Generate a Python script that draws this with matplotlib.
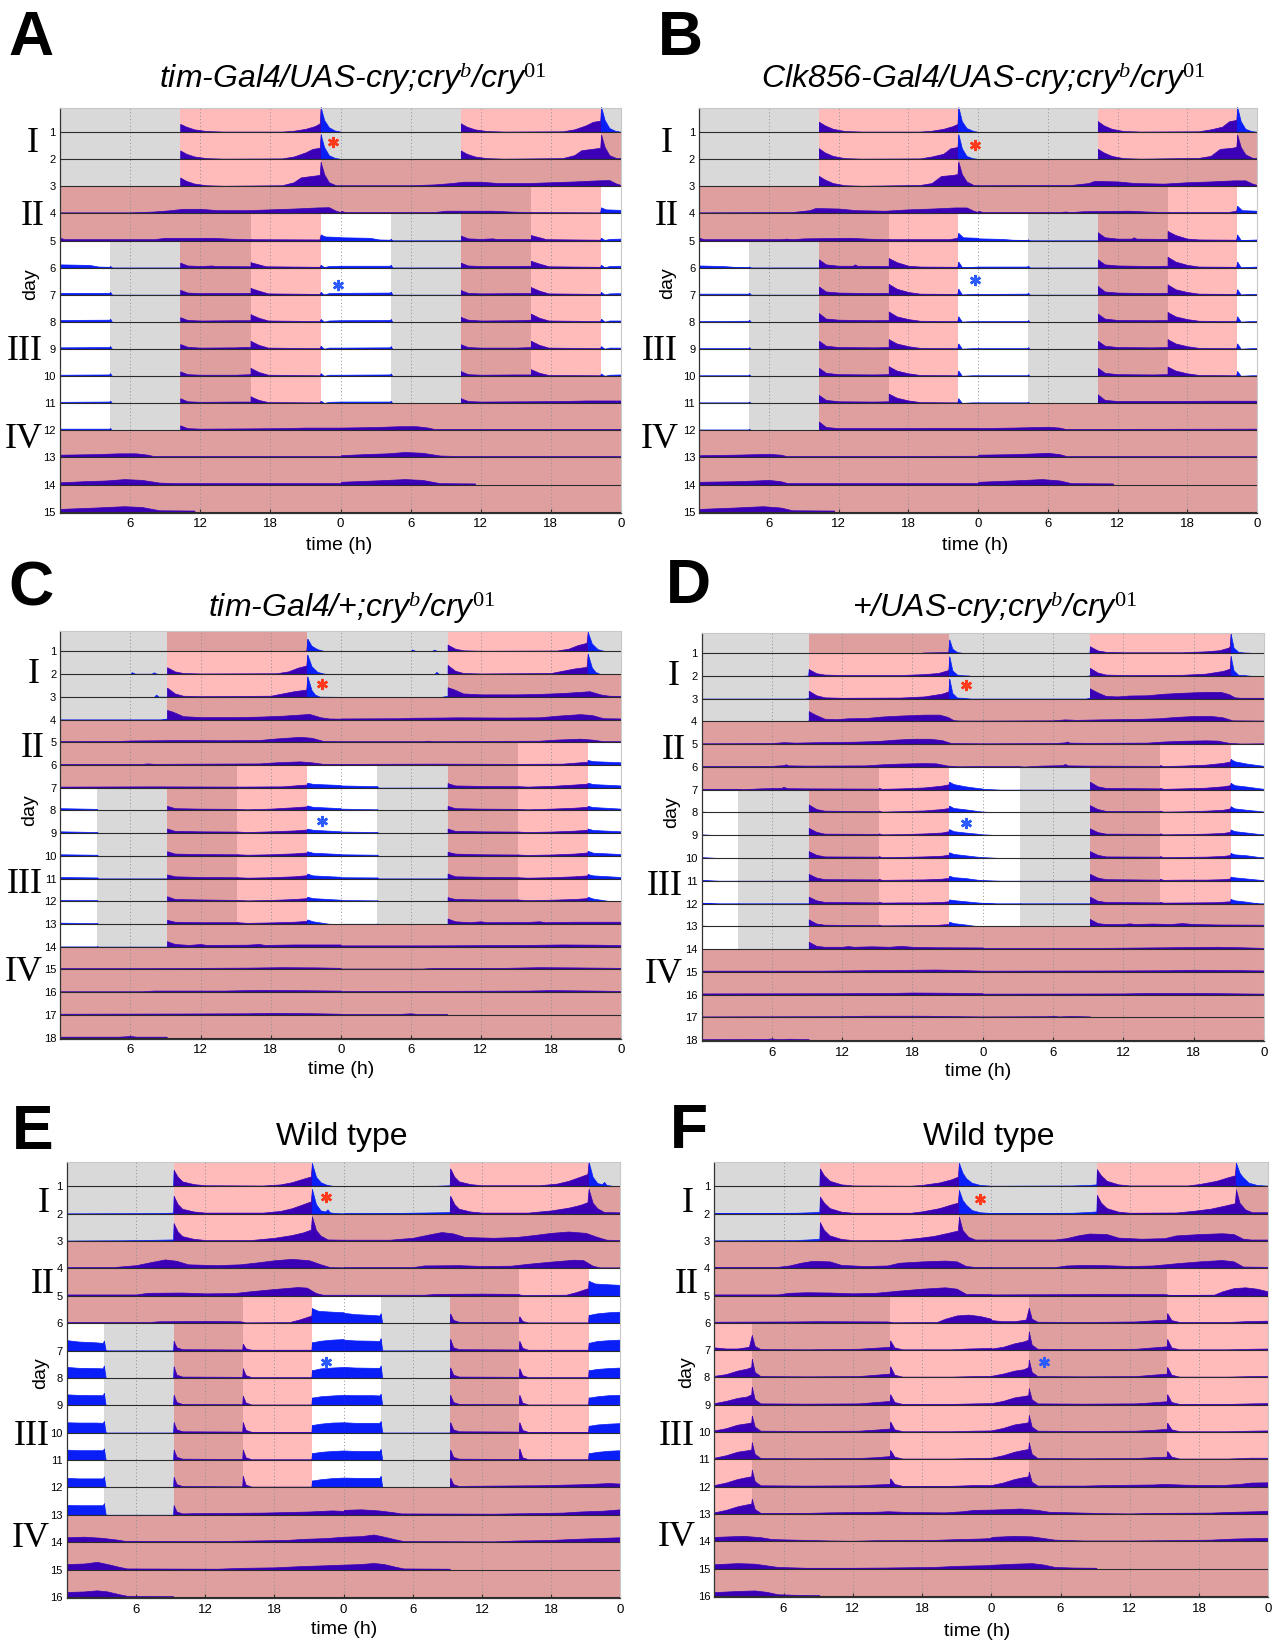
import numpy as np
import matplotlib
matplotlib.use('Agg')
import matplotlib.pyplot as plt
from matplotlib.patches import Rectangle

W, H = 1278, 1646
plt.rcParams['font.family'] = ['Liberation Sans', 'DejaVu Sans']
plt.rcParams['mathtext.fontset'] = 'custom'
plt.rcParams['mathtext.it'] = 'Liberation Serif:italic'
plt.rcParams['mathtext.rm'] = 'Liberation Serif'
plt.rcParams['mathtext.default'] = 'it'

BGCOL = {'g': '#d9d9d9', 'p': '#ffbaba', 'm': '#e09f9f', 'w': '#ffffff'}
PURPLE = '#3b00b6'
BLUE = '#0a1ef8'

# ---------------- background schedules (hours within each day) ----------------
MM = [(0, 24, 'm')]
AB_LD = [(0, 10.3, 'g'), (10.3, 22.3, 'p'), (22.3, 24, 'g')]
AB_LD3 = [(0, 10.3, 'g'), (10.3, 22.3, 'p'), (22.3, 24, 'm')]
AB_TR = [(0, 16.3, 'm'), (16.3, 22.3, 'p'), (22.3, 24, 'w')]
AB_III = [(0, 4.3, 'w'), (4.3, 10.3, 'g'), (10.3, 16.3, 'm'), (16.3, 22.3, 'p'), (22.3, 24, 'w')]
AB_IIIE = [(0, 4.3, 'w'), (4.3, 10.3, 'g'), (10.3, 24, 'm')]
A_BG = [AB_LD, AB_LD, AB_LD3, MM, AB_TR] + [AB_III] * 6 + [AB_IIIE] + [MM] * 4
B_BG = A_BG

CD_LD1 = [(0, 9.15, 'g'), (9.15, 21.15, 'm'), (21.15, 24, 'g')]
CD_LD = [(0, 9.15, 'g'), (9.15, 21.15, 'p'), (21.15, 24, 'g')]
CD_LD4 = [(0, 9.15, 'g'), (9.15, 24, 'm')]
CD_TR = [(0, 15.15, 'm'), (15.15, 21.15, 'p'), (21.15, 24, 'w')]
CD_III = [(0, 3.15, 'w'), (3.15, 9.15, 'g'), (9.15, 15.15, 'm'), (15.15, 21.15, 'p'), (21.15, 24, 'w')]
CD_IIIE = [(0, 3.15, 'w'), (3.15, 9.15, 'g'), (9.15, 24, 'm')]
C_BG = [CD_LD1, CD_LD, CD_LD, CD_LD4, MM, MM, CD_TR] + [CD_III] * 6 + [CD_IIIE] + [MM] * 5
D_BG = C_BG

E_LD = [(0, 9.25, 'g'), (9.25, 21.25, 'p'), (21.25, 24, 'g')]
E_LD3 = [(0, 9.25, 'g'), (9.25, 21.25, 'p'), (21.25, 24, 'm')]
E_TR = [(0, 15.25, 'm'), (15.25, 21.25, 'p'), (21.25, 24, 'w')]
E_III = [(0, 3.25, 'w'), (3.25, 9.25, 'g'), (9.25, 15.25, 'm'), (15.25, 21.25, 'p'), (21.25, 24, 'w')]
E_IIIE = [(0, 3.25, 'w'), (3.25, 9.25, 'g'), (9.25, 24, 'm')]
E_BG = [E_LD, E_LD, E_LD3, MM, MM, E_TR] + [E_III] * 6 + [E_IIIE] + [MM] * 4

F_LD = [(0, 9.15, 'g'), (9.15, 21.2, 'p'), (21.2, 24, 'g')]
F_LD3 = [(0, 9.15, 'g'), (9.15, 21.2, 'p'), (21.2, 24, 'm')]
F_TR = [(0, 15.25, 'm'), (15.25, 24, 'p')]
F_III = [(0, 3.25, 'p'), (3.25, 15.25, 'm'), (15.25, 24, 'p')]
F_IIIE = [(0, 3.25, 'p'), (3.25, 24, 'm')]
F_BG = [F_LD, F_LD, F_LD3, MM, MM, F_TR] + [F_III] * 6 + [F_IIIE] + [MM] * 4

# ---------------- activity profiles: per day, flat list hour, level (fraction of row) ----------------
A_ACT = [
    [0,0, 10.3,0, 10.3,0.3, 10.8,0.2, 11.5,0.1, 12.5,0.04, 14,0.02, 19,0.02, 20,0.05, 21,0.12, 21.8,0.22, 22.22,0.32, 22.3,0.92, 22.6,0.45, 23,0.18, 23.5,0.06, 24,0.02],
    [0,0.01, 10.3,0.01, 10.3,0.32, 10.8,0.2, 11.5,0.1, 12.5,0.04, 14,0.02, 19,0.03, 20,0.1, 21,0.25, 21.6,0.38, 22.22,0.42, 22.3,0.92, 22.6,0.45, 23,0.15, 23.5,0.05, 24,0.01],
    [0,0.01, 10.3,0.01, 10.3,0.32, 10.8,0.2, 11.5,0.1, 12.5,0.04, 14,0.02, 19,0.04, 20,0.15, 20.6,0.33, 21.5,0.38, 22.22,0.42, 22.3,0.9, 22.6,0.45, 23,0.15, 23.6,0.04, 24,0.04],
    [0,0.04, 6,0.04, 8,0.07, 9.5,0.12, 10.5,0.17, 12,0.17, 13.5,0.12, 16,0.12, 18,0.15, 20,0.18, 22,0.22, 23,0.23, 23.6,0.1, 24,0.05],
    [0,0.1, 0.4,0.05, 8,0.05, 9,0.1, 13,0.1, 14.5,0.07, 16,0.05, 22.2,0.04, 22.3,0.22, 22.7,0.15, 24,0.13],
    [0,0.12, 2.5,0.1, 3.3,0.04, 4.2,0.03, 4.3,0.06, 4.45,0, 10.3,0, 10.3,0.18, 10.9,0.08, 12,0.06, 13,0.08, 13.3,0.06, 16.3,0.05, 16.3,0.2, 17,0.12, 17.6,0.05, 22.2,0.03, 22.3,0.1, 22.6,0.02, 23,0.06, 24,0.07],
    [0,0.07, 4.2,0.07, 4.3,0.1, 4.45,0, 10.3,0, 10.3,0.18, 10.9,0.08, 12,0.06, 15,0.06, 16.3,0.07, 16.3,0.25, 17,0.15, 17.8,0.05, 22.2,0.03, 22.3,0.1, 22.6,0.01, 23,0.06, 24,0.07],
    [0,0.07, 4.2,0.08, 4.3,0.11, 4.45,0, 10.3,0, 10.3,0.17, 10.9,0.07, 12,0.05, 15,0.06, 16.3,0.06, 16.3,0.28, 17,0.15, 17.8,0.05, 22.2,0.03, 22.3,0.1, 22.6,0.01, 23,0.05, 24,0.06],
    [0,0.06, 4.2,0.07, 4.3,0.1, 4.45,0, 10.3,0, 10.3,0.18, 10.9,0.08, 12,0.05, 15,0.06, 16.3,0.08, 16.3,0.3, 17,0.15, 17.8,0.05, 22.2,0.03, 22.3,0.11, 22.6,0.01, 23,0.05, 24,0.05],
    [0,0.05, 4.2,0.06, 4.3,0.1, 4.45,0, 10.3,0, 10.3,0.17, 10.9,0.07, 12,0.05, 15,0.05, 16.3,0.07, 16.3,0.3, 17,0.15, 17.8,0.05, 22.2,0.03, 22.3,0.1, 22.6,0.01, 23,0.05, 24,0.05],
    [0,0.05, 4.2,0.06, 4.3,0.09, 4.45,0, 10.3,0, 10.3,0.18, 10.9,0.07, 12,0.05, 15,0.06, 16.3,0.06, 16.3,0.25, 17,0.12, 17.8,0.04, 22.2,0.03, 22.3,0.09, 22.6,0.01, 23,0.05, 24,0.06],
    [0,0.06, 4.2,0.06, 4.3,0.08, 4.45,0, 10.3,0, 10.3,0.18, 10.9,0.08, 12,0.06, 16,0.07, 19,0.08, 21,0.1, 23,0.1, 24,0.1],
    [0,0.1, 3,0.12, 5,0.15, 6.5,0.15, 7.5,0.1, 8,0.05, 24,0.05],
    [0,0.08, 2,0.12, 4,0.15, 5.5,0.2, 7,0.17, 8.5,0.07, 10,0.05, 24,0.05],
    [0,0.1, 3,0.15, 5.5,0.2, 7,0.17, 8.5,0.05, 11.5,0.04],
]

B_ACT = [
    [0,0, 10.3,0, 10.3,0.38, 10.8,0.25, 11.5,0.12, 12.5,0.04, 14,0.02, 19,0.02, 20,0.05, 21,0.12, 21.8,0.22, 22.22,0.3, 22.3,0.92, 22.6,0.4, 23,0.15, 23.6,0.04, 24,0.01],
    [0,0.01, 10.3,0.01, 10.3,0.4, 10.8,0.25, 11.5,0.12, 12.5,0.04, 14,0.02, 19,0.03, 20,0.1, 21,0.2, 21.6,0.4, 22.22,0.45, 22.3,0.92, 22.6,0.4, 23,0.12, 23.5,0.04, 24,0.01],
    [0,0.01, 10.3,0.01, 10.3,0.38, 10.8,0.25, 11.5,0.12, 12.5,0.04, 14,0.02, 19,0.05, 20,0.12, 20.8,0.38, 21.8,0.42, 22.22,0.45, 22.3,0.9, 22.6,0.45, 23,0.18, 23.6,0.05, 24,0.04],
    [0,0.04, 8,0.05, 9.5,0.12, 10,0.2, 12,0.18, 13.5,0.12, 16,0.1, 18,0.15, 20,0.18, 22,0.22, 23,0.22, 23.6,0.1, 24,0.05],
    [0,0.1, 0.4,0.05, 7,0.05, 7.5,0.07, 8,0.05, 9,0.08, 13,0.1, 14.5,0.07, 16,0.05, 21.5,0.05, 22.2,0.1, 22.3,0.28, 22.7,0.12, 24,0.1],
    [0,0.08, 2,0.06, 3,0.03, 4.2,0.02, 4.3,0.04, 4.45,0, 10.3,0, 10.3,0.3, 10.9,0.12, 12,0.07, 13.2,0.07, 13.4,0.12, 13.6,0.07, 16.3,0.06, 16.3,0.35, 17,0.2, 18,0.07, 19,0.04, 22.2,0.03, 22.3,0.22, 22.6,0.02, 23.5,0.03, 24,0.04],
    [0,0.04, 4.2,0.04, 4.3,0.07, 4.45,0, 10.3,0, 10.3,0.3, 10.9,0.12, 12,0.08, 15,0.06, 16.3,0.07, 16.3,0.4, 17,0.22, 18,0.1, 19,0.04, 22.2,0.03, 22.3,0.22, 22.6,0.01, 23.5,0.03, 24,0.04],
    [0,0.03, 4.2,0.04, 4.3,0.07, 4.45,0, 10.3,0, 10.3,0.32, 10.9,0.12, 12,0.08, 15,0.06, 16.3,0.07, 16.3,0.38, 17,0.2, 18,0.1, 19,0.04, 22.2,0.03, 22.3,0.2, 22.6,0.01, 23.5,0.03, 24,0.03],
    [0,0.03, 4.2,0.03, 4.3,0.06, 4.45,0, 10.3,0, 10.3,0.3, 10.9,0.12, 12,0.07, 15,0.06, 16.3,0.07, 16.3,0.36, 17,0.2, 18,0.1, 19,0.04, 22.2,0.03, 22.3,0.2, 22.6,0.01, 23.5,0.03, 24,0.03],
    [0,0.03, 4.2,0.03, 4.3,0.06, 4.45,0, 10.3,0, 10.3,0.3, 10.9,0.12, 12,0.07, 15,0.06, 16.3,0.07, 16.3,0.36, 17,0.2, 18,0.1, 19,0.04, 22.2,0.03, 22.3,0.2, 22.6,0.01, 23.5,0.03, 24,0.03],
    [0,0.03, 4.2,0.03, 4.3,0.06, 4.45,0, 10.3,0, 10.3,0.3, 10.9,0.12, 12,0.07, 15,0.06, 16.3,0.07, 16.3,0.35, 17,0.2, 18,0.1, 19,0.04, 22.2,0.03, 22.3,0.18, 22.6,0.01, 23.5,0.03, 24,0.03],
    [0,0.03, 4.2,0.03, 4.3,0.05, 4.45,0, 10.3,0, 10.3,0.32, 10.9,0.12, 12,0.08, 16,0.08, 20,0.09, 24,0.09],
    [0,0.08, 3,0.1, 5,0.12, 6,0.13, 7,0.1, 7.5,0.05, 24,0.06],
    [0,0.1, 3,0.12, 5,0.15, 6,0.17, 7,0.12, 7.6,0.05, 24,0.05],
    [0,0.1, 3,0.15, 5.5,0.2, 7,0.15, 8,0.05, 11.6,0.04],
]

C_ACT = [
    [0,0, 18.7,0, 18.8,0.02, 21.05,0.03, 21.15,0.56, 21.5,0.25, 22,0.1, 22.5,0.03, 22.8,0, 24,0],
    [0,0, 6,0, 6.1,0.09, 6.4,0.02, 7.8,0.02, 8,0.08, 8.3,0.01, 9.15,0.01, 9.15,0.3, 9.8,0.12, 10.5,0.05, 12,0.03, 18.5,0.04, 19.5,0.12, 20.3,0.28, 21.05,0.38, 21.15,0.86, 21.5,0.35, 22,0.1, 22.6,0.02, 24,0],
    [0,0, 8,0, 8.2,0.1, 8.4,0.01, 9.15,0.01, 9.15,0.4, 9.8,0.15, 10.5,0.05, 12,0.03, 18,0.05, 19,0.15, 20,0.25, 21.05,0.32, 21.15,0.9, 21.5,0.3, 21.8,0.1, 22.2,0.01, 24,0],
    [0,0, 8.6,0, 9.15,0.05, 9.15,0.42, 9.6,0.35, 10.5,0.15, 12,0.11, 15,0.11, 17,0.13, 19,0.17, 20.5,0.22, 21.3,0.25, 22.3,0.1, 23,0.05, 24,0.04],
    [0,0.05, 5,0.06, 6,0.08, 8.5,0.09, 10,0.1, 14,0.09, 17,0.1, 18.5,0.17, 20.5,0.24, 21.5,0.2, 22.5,0.06, 24,0.05],
    [0,0.05, 7,0.05, 7.5,0.07, 8,0.05, 12,0.06, 17,0.07, 18.5,0.12, 20.5,0.16, 21.5,0.12, 22.5,0.05, 24,0.05],
    [0,0.05, 8,0.06, 15,0.05, 19,0.06, 20.5,0.12, 21.1,0.14, 21.15,0.22, 21.6,0.17, 24,0.12],
    [0,0.1, 3.1,0.07, 3.15,0.04, 3.25,0, 9.15,0, 9.15,0.2, 9.8,0.1, 12,0.08, 15.15,0.07, 16,0.05, 18,0.08, 20,0.14, 21.1,0.18, 21.15,0.22, 21.6,0.16, 24,0.1],
    [0,0.08, 3.1,0.05, 3.15,0.04, 3.25,0, 9.15,0, 9.15,0.2, 9.8,0.1, 12,0.08, 15.15,0.07, 16,0.05, 18,0.08, 20,0.12, 21.1,0.16, 21.15,0.2, 21.6,0.15, 24,0.08],
    [0,0.07, 3.1,0.05, 3.15,0.04, 3.25,0, 9.15,0, 9.15,0.2, 9.8,0.1, 12,0.08, 15.15,0.07, 16,0.05, 18,0.07, 20,0.11, 21.1,0.15, 21.15,0.2, 21.6,0.14, 24,0.08],
    [0,0.07, 3.1,0.05, 3.15,0.04, 3.25,0, 9.15,0, 9.15,0.18, 9.8,0.1, 12,0.07, 15.15,0.06, 16,0.04, 18,0.06, 20,0.1, 21.1,0.15, 21.15,0.22, 21.6,0.14, 24,0.08],
    [0,0.06, 3.1,0.05, 3.15,0.04, 3.25,0, 9.15,0, 9.15,0.22, 9.8,0.1, 12,0.08, 15.15,0.06, 16,0.04, 18,0.06, 20,0.1, 21.1,0.14, 21.15,0.2, 21.6,0.14, 24,0.07],
    [0,0.06, 3.1,0.04, 3.15,0.04, 3.25,0, 9.15,0, 9.15,0.18, 9.8,0.1, 12,0.08, 15.15,0.08, 16,0.05, 18,0.07, 20,0.1, 21.1,0.14, 21.15,0.2, 21.6,0.12, 22.5,0.05, 23,0.01, 24,0],
    [0,0.01, 3.1,0.01, 3.15,0.02, 3.25,0, 9.15,0, 9.15,0.24, 9.8,0.12, 11,0.08, 12,0.12, 12.5,0.08, 16,0.09, 17,0.12, 17.5,0.08, 20,0.1, 24,0.1],
    [0,0.06, 8,0.06, 12,0.07, 16,0.08, 19,0.1, 22,0.09, 24,0.07],
    [0,0.04, 7,0.04, 8,0.07, 14,0.07, 17,0.1, 20,0.09, 24,0.07],
    [0,0.05, 10,0.06, 16,0.07, 18,0.09, 22,0.07, 24,0.05],
    [0,0.04, 5,0.04, 6,0.07, 6.5,0.04, 9.1,0.04],
]

D_ACT = [
    [0,0, 18.8,0, 18.9,0.03, 21.05,0.05, 21.15,0.6, 21.4,0.2, 21.8,0.05, 22.2,0.02, 22.5,0, 24,0],
    [0,0, 8.5,0, 9.1,0.02, 9.15,0.3, 9.8,0.12, 10.5,0.06, 12,0.04, 17,0.04, 19,0.08, 20.2,0.13, 21,0.25, 21.07,0.3, 21.15,0.86, 21.4,0.25, 21.8,0.06, 22.3,0.03, 22.8,0.02, 23,0, 24,0],
    [0,0, 8.8,0, 9.15,0.03, 9.15,0.35, 9.8,0.15, 10.5,0.06, 12,0.04, 17,0.05, 19,0.1, 20.5,0.22, 21.07,0.32, 21.15,0.88, 21.4,0.25, 21.8,0.05, 22.3,0.04, 22.6,0.02, 23,0, 24,0],
    [0,0, 8.8,0, 9.15,0.05, 9.15,0.45, 9.7,0.3, 10.5,0.12, 11.5,0.1, 12.5,0.14, 14,0.15, 15.5,0.22, 17,0.26, 19,0.3, 20.3,0.3, 21,0.2, 21.5,0.06, 22,0.04, 24,0.04],
    [0,0.04, 6,0.05, 7,0.09, 8,0.07, 10,0.09, 13,0.11, 15,0.14, 16.5,0.2, 18,0.24, 19.5,0.24, 20.5,0.18, 21.3,0.05, 24,0.04],
    [0,0.04, 6,0.05, 7,0.08, 7.2,0.12, 7.4,0.07, 9,0.06, 14,0.07, 15.5,0.12, 17,0.15, 19,0.17, 20,0.16, 21,0.06, 22,0.03, 24,0.04],
    [0,0.04, 3,0.04, 3.5,0.02, 5,0.06, 6.8,0.08, 7,0.13, 7.3,0.07, 9,0.06, 15.1,0.05, 15.15,0.08, 15.4,0.04, 17,0.06, 19,0.1, 20.5,0.18, 21.1,0.24, 21.15,0.35, 21.5,0.25, 22.5,0.15, 23.5,0.08, 24,0.05],
    [0,0.04, 1.5,0, 9.15,0, 9.15,0.35, 9.8,0.15, 10.5,0.08, 15.1,0.06, 15.15,0.08, 15.4,0.04, 17,0.06, 19,0.09, 20.5,0.15, 21.1,0.2, 21.15,0.3, 21.5,0.2, 22.5,0.14, 23.5,0.07, 24,0.04],
    [0,0.04, 1.5,0, 9.15,0, 9.15,0.32, 9.8,0.15, 10.5,0.07, 15.1,0.06, 15.15,0.08, 15.4,0.04, 17,0.05, 19,0.08, 20.5,0.12, 21.1,0.18, 21.15,0.27, 21.5,0.18, 22.5,0.12, 23.5,0.07, 24,0.04],
    [0,0.04, 1.5,0, 9.15,0, 9.15,0.3, 9.8,0.14, 10.5,0.07, 15.1,0.06, 15.15,0.08, 15.4,0.04, 17,0.05, 19,0.07, 20.5,0.1, 21.1,0.15, 21.15,0.25, 21.5,0.18, 22.5,0.12, 23.5,0.06, 24,0.04],
    [0,0.04, 1.5,0, 9.15,0, 9.15,0.3, 9.8,0.14, 10.5,0.07, 15.1,0.06, 15.15,0.08, 15.4,0.04, 17,0.05, 19,0.06, 20.5,0.09, 21.1,0.13, 21.15,0.22, 21.5,0.16, 22.5,0.12, 23.5,0.05, 24,0.03],
    [0,0.03, 1.5,0, 9.15,0, 9.15,0.3, 9.8,0.14, 10.5,0.07, 15.1,0.05, 15.15,0.08, 15.4,0.04, 17,0.05, 19,0.05, 20.5,0.07, 21.1,0.1, 21.15,0.18, 21.5,0.15, 22.5,0.1, 23.5,0.05, 24,0.03],
    [0,0.03, 1.2,0, 9.15,0, 9.15,0.3, 9.8,0.12, 10.5,0.07, 15.1,0.05, 15.15,0.07, 15.4,0.04, 18,0.05, 20,0.06, 21.1,0.1, 21.15,0.2, 21.5,0.14, 22.5,0.08, 23.6,0, 24,0],
    [0,0, 9.15,0, 9.15,0.32, 9.8,0.14, 10.5,0.1, 12,0.1, 12.5,0.13, 13,0.1, 14.5,0.12, 16,0.1, 17,0.14, 18,0.1, 20,0.08, 24,0.07],
    [0,0.05, 10,0.05, 14,0.07, 16,0.08, 18,0.09, 20,0.1, 22,0.08, 24,0.05],
    [0,0.05, 12,0.06, 16,0.07, 18,0.09, 21,0.08, 24,0.06],
    [0,0.04, 12,0.05, 14,0.07, 19,0.07, 22,0.05, 24,0.04],
    [0,0.04, 5.5,0.05, 6,0.07, 6.5,0.04, 7.5,0.06, 9.15,0.04],
]

E_ACT = [
    [0,0, 9.2,0, 9.25,0.6, 9.6,0.35, 10,0.18, 11,0.08, 12,0.04, 17,0.03, 18.5,0.07, 19.5,0.15, 20.5,0.28, 21.15,0.36, 21.25,0.85, 21.6,0.35, 22,0.15, 22.5,0.06, 23,0.02, 24,0.01],
    [0,0.01, 8,0.02, 9.2,0.04, 9.25,0.65, 9.6,0.35, 10,0.18, 11,0.08, 12,0.04, 17,0.04, 18.5,0.1, 19.5,0.2, 20.5,0.35, 21.15,0.45, 21.25,0.9, 21.6,0.35, 22,0.12, 22.4,0.08, 22.6,0.16, 22.8,0.05, 23.3,0.02, 24,0.01],
    [0,0.02, 5,0.03, 8,0.05, 9.2,0.06, 9.25,0.65, 9.6,0.35, 10,0.18, 11,0.08, 12,0.04, 16,0.04, 18,0.12, 19.5,0.22, 20.5,0.32, 21.15,0.42, 21.25,0.9, 21.6,0.4, 22,0.2, 22.6,0.06, 24,0.05],
    [0,0.05, 4,0.05, 6,0.12, 7.5,0.25, 8.5,0.33, 9.5,0.28, 10.5,0.15, 13,0.12, 15,0.15, 16.5,0.22, 18,0.3, 19.5,0.35, 21,0.3, 22,0.15, 22.8,0.05, 24,0.04],
    [0,0.05, 6,0.05, 7,0.11, 10,0.12, 12,0.09, 14.5,0.1, 16,0.17, 18,0.25, 20,0.32, 20.8,0.3, 21.6,0.1, 22.2,0.04, 24,0.04],
    [0,0.04, 7,0.04, 8,0.07, 12,0.08, 15,0.07, 15.5,0.03, 19.3,0.04, 20.2,0.14, 21.2,0.28, 21.25,0.55, 21.8,0.45, 23,0.42, 24,0.4],
    [0,0.38, 1,0.33, 2.5,0.3, 3.1,0.28, 3.2,0.36, 3.35,0.02, 3.4,0, 9.2,0, 9.25,0.35, 9.5,0.12, 10,0.05, 15.2,0.04, 15.25,0.25, 15.5,0.08, 16,0.03, 21.2,0.03, 21.25,0.3, 22,0.36, 23,0.4, 24,0.42],
    [0,0.4, 1,0.37, 2.5,0.36, 3.1,0.35, 3.2,0.45, 3.35,0.02, 3.4,0, 9.2,0, 9.25,0.42, 9.5,0.12, 10,0.05, 15.2,0.04, 15.25,0.35, 15.5,0.1, 16,0.03, 21.2,0.03, 21.25,0.28, 22,0.35, 23,0.38, 24,0.4],
    [0,0.4, 1,0.38, 2.5,0.37, 3.1,0.37, 3.2,0.45, 3.35,0.02, 3.4,0, 9.2,0, 9.25,0.38, 9.5,0.12, 10,0.05, 15.2,0.04, 15.25,0.35, 15.5,0.1, 16,0.03, 21.2,0.03, 21.25,0.28, 22,0.33, 23,0.36, 24,0.38],
    [0,0.38, 1,0.37, 2.5,0.37, 3.1,0.36, 3.2,0.42, 3.35,0.02, 3.4,0, 9.2,0, 9.25,0.38, 9.5,0.12, 10,0.05, 15.2,0.04, 15.25,0.38, 15.5,0.1, 16,0.03, 21.2,0.03, 21.25,0.28, 22,0.33, 23,0.37, 24,0.38],
    [0,0.38, 1,0.36, 2.5,0.36, 3.1,0.36, 3.2,0.42, 3.35,0.02, 3.4,0, 9.2,0, 9.25,0.38, 9.5,0.12, 10,0.05, 15.2,0.04, 15.25,0.38, 15.5,0.1, 16,0.03, 21.2,0.03, 21.25,0.25, 22,0.3, 23,0.33, 24,0.35],
    [0,0.35, 1,0.33, 2.5,0.33, 3.1,0.33, 3.2,0.4, 3.35,0.02, 3.4,0, 9.2,0, 9.25,0.38, 9.5,0.12, 10,0.05, 15.2,0.04, 15.25,0.42, 15.5,0.1, 16,0.03, 21.2,0.03, 21.25,0.25, 22,0.3, 23,0.34, 24,0.36],
    [0,0.36, 1,0.35, 2.5,0.35, 3.1,0.35, 3.2,0.42, 3.35,0.02, 3.4,0, 9.2,0, 9.25,0.35, 9.5,0.12, 10,0.05, 11,0.06, 14,0.07, 17,0.08, 19,0.1, 21,0.12, 23,0.16, 24,0.14],
    [0,0.18, 1.5,0.2, 3,0.16, 4.2,0.1, 5,0.05, 13,0.04, 16,0.06, 19,0.08, 20.5,0.12, 22.5,0.15, 24,0.2],
    [0,0.2, 1.5,0.22, 2.6,0.28, 3.5,0.2, 4.5,0.1, 5.2,0.04, 13,0.03, 15,0.06, 18,0.08, 20,0.12, 22,0.15, 24,0.18],
    [0,0.18, 1.5,0.2, 2.6,0.24, 3.5,0.2, 4.5,0.1, 5.2,0.04, 9.2,0.03],
]

F_ACT = [
    [0,0, 9.1,0, 9.15,0.65, 9.5,0.4, 10,0.2, 11,0.07, 12,0.03, 17,0.02, 18,0.05, 19.5,0.14, 20.5,0.25, 21.1,0.35, 21.2,0.85, 21.5,0.5, 21.8,0.3, 22.3,0.13, 23,0.05, 24,0.02],
    [0,0.02, 7,0.03, 8.5,0.05, 9.1,0.07, 9.15,0.62, 9.5,0.4, 10,0.2, 11,0.07, 12,0.03, 17,0.03, 18,0.08, 19.5,0.2, 20.5,0.33, 21.1,0.4, 21.2,0.86, 21.5,0.5, 21.8,0.33, 22.3,0.13, 23,0.05, 24,0.02],
    [0,0.02, 7,0.03, 8.5,0.06, 9.1,0.08, 9.15,0.68, 9.5,0.4, 10,0.2, 11,0.07, 12,0.03, 16,0.04, 17.5,0.1, 19,0.18, 20.3,0.3, 21.1,0.38, 21.2,0.88, 21.5,0.4, 22,0.15, 22.6,0.05, 24,0.05],
    [0,0.05, 5.5,0.05, 6.5,0.1, 7.5,0.2, 8.5,0.27, 10,0.25, 11,0.12, 13,0.08, 15,0.1, 16,0.2, 18,0.25, 20,0.28, 21,0.25, 21.8,0.08, 22.5,0.05, 24,0.05],
    [0,0.04, 5.5,0.04, 6.5,0.1, 8,0.12, 10,0.11, 12,0.08, 14,0.1, 16,0.18, 18,0.25, 20,0.3, 21,0.25, 21.8,0.06, 24,0.05],
    [0,0.04, 7,0.05, 9,0.06, 15,0.05, 15.5,0.02, 19.3,0.03, 20,0.15, 21,0.27, 22,0.3, 23,0.25, 24,0.15],
    [0,0.1, 1,0.06, 2,0.06, 3,0.12, 3.25,0.55, 3.5,0.15, 4,0.04, 8,0.03, 12.5,0.05, 14,0.09, 15.2,0.12, 15.25,0.35, 15.6,0.1, 16.3,0.03, 20.5,0.03, 22,0.06, 24,0.08],
    [0,0.06, 1,0.12, 2,0.25, 2.8,0.32, 3.2,0.38, 3.25,0.68, 3.5,0.2, 4,0.05, 8,0.04, 12.5,0.05, 14,0.1, 15.2,0.14, 15.25,0.4, 15.6,0.1, 16.3,0.03, 20.5,0.03, 22.5,0.05, 24,0.06],
    [0,0.06, 1,0.14, 2,0.25, 2.8,0.3, 3.2,0.38, 3.25,0.65, 3.5,0.2, 4,0.05, 8,0.04, 12.5,0.05, 14,0.1, 15.2,0.14, 15.25,0.38, 15.6,0.1, 16.3,0.03, 20.5,0.03, 22.5,0.05, 24,0.06],
    [0,0.06, 1,0.14, 2,0.27, 2.8,0.32, 3.2,0.35, 3.25,0.6, 3.5,0.2, 4,0.05, 8,0.04, 12.5,0.05, 14,0.09, 15.2,0.13, 15.25,0.38, 15.6,0.1, 16.3,0.03, 20.5,0.03, 22.5,0.05, 24,0.06],
    [0,0.06, 1,0.15, 2,0.28, 2.8,0.33, 3.2,0.36, 3.25,0.62, 3.5,0.2, 4,0.05, 8,0.04, 12.5,0.05, 14,0.08, 15.2,0.12, 15.25,0.34, 15.6,0.1, 16.3,0.03, 20.5,0.03, 22.5,0.05, 24,0.06],
    [0,0.06, 1,0.15, 2,0.28, 2.8,0.35, 3.2,0.38, 3.25,0.62, 3.5,0.2, 4,0.05, 8,0.04, 12.5,0.05, 14,0.08, 15.2,0.1, 15.25,0.3, 15.6,0.1, 16.3,0.03, 20.5,0.03, 22.5,0.06, 24,0.06],
    [0,0.06, 1,0.15, 2,0.28, 2.8,0.35, 3.2,0.38, 3.25,0.55, 3.5,0.18, 4,0.04, 8,0.04, 10,0.06, 14,0.08, 15,0.1, 17,0.07, 20,0.06, 21.5,0.1, 22.5,0.15, 24,0.16],
    [0,0.16, 2.5,0.2, 4,0.15, 5,0.08, 8,0.05, 10,0.03, 12,0.02, 14,0.04, 19,0.05, 21,0.08, 23,0.1, 24,0.12],
    [0,0.16, 2,0.2, 3.5,0.18, 4.5,0.12, 5.5,0.06, 8,0.03, 12,0.03, 15,0.04, 19,0.06, 21,0.1, 23,0.12, 24,0.13],
    [0,0.14, 2,0.18, 3.5,0.2, 4.5,0.15, 5.5,0.06, 7,0.04, 9.1,0.03],
]

# ---------------- labels ----------------
XTICK_POS = [6, 12, 18, 24, 30, 36, 42, 48]
XTICK_LAB = ['6', '12', '18', '0', '6', '12', '18', '0']
TITLES = {
    'A': 'tim-Gal4/UAS-cry;cry$^{b}$/cry$^{01}$',
    'B': 'Clk856-Gal4/UAS-cry;cry$^{b}$/cry$^{01}$',
    'C': 'tim-Gal4/+;cry$^{b}$/cry$^{01}$',
    'D': '+/UAS-cry;cry$^{b}$/cry$^{01}$',
    'E': 'Wild type',
    'F': 'Wild type',
}
ROMAN = ['I', 'II', 'III', 'IV']

# layout in pixels: left, right, top, bottom
PANELS = {
    'A': dict(box=(60, 621, 107.7, 512.7), n=15, bg=A_BG, act=A_ACT,
              letter=(8, 55), title=(353, 88), xlabel=(339, 545), ylabel=(31, 284),
              roman=[(33, 152), (33, 225), (25, 360), (24, 448)],
              red=(23.4, 1.36), blue=(23.8, 6.63)),
    'B': dict(box=(699.3, 1257, 107.7, 512.7), n=15, bg=B_BG, act=B_ACT,
              letter=(658, 55), title=(983, 88), xlabel=(975, 545), ylabel=(668, 283),
              roman=[(667, 152), (667, 225), (660, 360), (660, 448)],
              red=(23.7, 1.48), blue=(23.7, 6.46)),
    'C': dict(box=(60.4, 621, 631, 1038.5), n=18, bg=C_BG, act=C_ACT,
              letter=(8, 606), title=(352, 617), xlabel=(341, 1070), ylabel=(30, 810),
              roman=[(34, 683), (33, 757), (25, 893), (24, 981)],
              red=(22.4, 2.43), blue=(22.4, 8.45)),
    'D': dict(box=(701.5, 1264, 632.7, 1041), n=18, bg=D_BG, act=D_ACT,
              letter=(666, 603), title=(995, 617), xlabel=(978, 1072), ylabel=(672, 812),
              roman=[(674, 685), (674, 759), (665, 895), (664, 983)],
              red=(22.57, 2.4), blue=(22.57, 8.44)),
    'E': dict(box=(67, 620.3, 1161.7, 1598), n=16, bg=E_BG, act=E_ACT,
              letter=(12, 1149), title=(342, 1145), xlabel=(344, 1630), ylabel=(41, 1373),
              roman=[(44, 1212), (43, 1293), (32, 1445), (31, 1547)],
              red=(22.46, 1.39), blue=(22.46, 7.4)),
    'F': dict(box=(714.3, 1268.3, 1161.7, 1597), n=16, bg=F_BG, act=F_ACT,
              letter=(670, 1148), title=(989, 1145), xlabel=(977, 1632), ylabel=(687, 1372),
              roman=[(688, 1212), (687, 1293), (677, 1445), (677, 1546)],
              red=(23.0, 1.47), blue=(28.57, 7.42)),
}

fig = plt.figure(figsize=(W / 100, H / 100), dpi=100)


def P(x, y):
    return x / W, 1 - y / H


def draw_panel(key, cfg):
    l, r, t, b = cfg['box']
    n = cfg['n']
    ax = fig.add_axes([l / W, 1 - b / H, (r - l) / W, (b - t) / H])
    ax.set_xlim(0, 48)
    ax.set_ylim(n + 0.04, 0.1)
    ax.set_facecolor('#dedede')
    bg, act = cfg['bg'], cfg['act']
    for row in range(1, n + 1):
        for half in (0, 1):
            d = row + half
            off = 24 * half
            segs = bg[d - 1] if d - 1 < len(bg) else MM
            prof = act[d - 1] if d - 1 < len(act) else None
            if prof is not None:
                tt = np.array(prof[0::2], dtype=float) + off
                vv = np.array(prof[1::2], dtype=float)
            for (s, e, c) in segs:
                rect = Rectangle((off + s, row - 1), e - s, 1, facecolor=BGCOL[c],
                                 edgecolor='none', zorder=0, antialiased=False)
                ax.add_patch(rect)
                if prof is not None:
                    col = BLUE if c in 'gw' else PURPLE
                    pc = ax.fill_between(tt, row, row - vv, facecolor=col, edgecolor=col,
                                         lw=0.5, zorder=2)
                    pc.set_clip_path(rect)
    ax.vlines([6, 12, 18, 24, 30, 36, 42], 0, n + 0.04, colors='#8f8f8f',
              linestyles=(0, (1, 2.5)), lw=0.7, zorder=1)
    ax.hlines(np.arange(1, n + 1), 0, 48, colors='#2b2b2b', lw=0.8, zorder=3)
    ax.set_xticks(XTICK_POS)
    ax.set_xticklabels(XTICK_LAB)
    ax.set_yticks(np.arange(1, n + 1))
    ax.set_yticklabels([str(i) for i in range(1, n + 1)])
    ax.tick_params(axis='x', direction='in', length=3, labelsize=9.5, pad=4, color='#333333')
    ax.tick_params(axis='y', length=0, labelsize=8, pad=3)
    for sp in ('left', 'bottom'):
        ax.spines[sp].set_color('#333333')
        ax.spines[sp].set_linewidth(0.9)
    for sp in ('top', 'right'):
        ax.spines[sp].set_color('#c8c8c8')
        ax.spines[sp].set_linewidth(0.8)
    # asterisks
    ax.plot(*cfg['red'], marker=(6, 2, 0), ms=8, mew=1.8, color='#ff3a1c', zorder=5, clip_on=False)
    ax.plot(*cfg['blue'], marker=(6, 2, 0), ms=8, mew=1.8, color='#2c5cff', zorder=5, clip_on=False)

    # texts
    fig.text(*P(*cfg['letter']), key, fontsize=45, fontweight='bold', ha='left', va='baseline')
    if key in 'EF':
        fig.text(*P(*cfg['title']), TITLES[key], fontsize=23, ha='center', va='baseline')
    else:
        fig.text(*P(*cfg['title']), TITLES[key], fontsize=23, style='italic', ha='center', va='baseline')
    fig.text(*P(*cfg['xlabel']), 'time (h)', fontsize=14, ha='center', va='center')
    fig.text(*P(*cfg['ylabel']), 'day', fontsize=14, ha='center', va='center', rotation=90)
    for s, (x, y) in zip(ROMAN, cfg['roman']):
        fig.text(*P(x, y), s, fontsize=26, family=['Liberation Serif', 'DejaVu Serif'],
                 ha='center', va='baseline')


for k, cfg in PANELS.items():
    draw_panel(k, cfg)

fig.savefig('out.png', dpi=100)
